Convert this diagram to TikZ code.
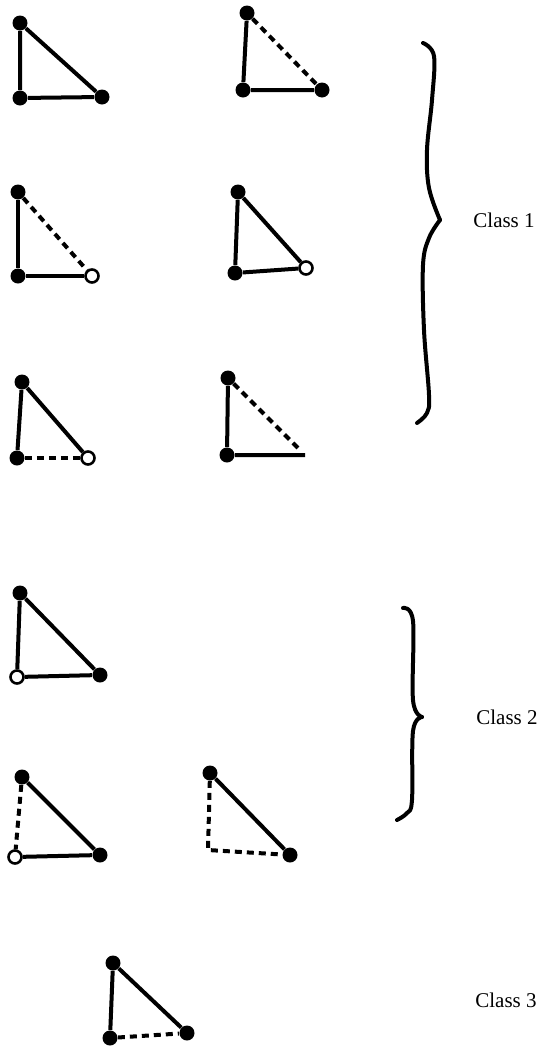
\documentclass[tikz,border=0pt]{standalone}
\usepackage{fontspec}
\setmainfont{Liberation Serif}
\usetikzlibrary{positioning}
\tikzset{
  site/.style={
    circle,
    fill=black,
    minimum size=7.5pt,
    inner sep=0pt
  },
  site open/.style={
    circle,
    draw=black,
    line width=1.3pt,
    fill=white,
    minimum size=6.5pt,
    inner sep=0pt
  },
  link/.style={
    line width=2pt
  },
  link broken/.style={
    line width=2pt,
    dash pattern=on 3.5pt off 2.5pt
  },
  bracepath/.style={
    line width=2pt,
    line cap=round,
    line join=round
  },
  classlabel/.style={
    font=\fontsize{10.5}{12}\selectfont,
    anchor=west,
    inner sep=0pt
  }
}

\begin{document}
\begin{tikzpicture}[x=0.5pt,y=-0.5pt]
  \useasboundingbox (0,0) rectangle (538,1050);

  % Row 1
  \node[site] (a1) at (20,23) {};
  \node[site] (b1) at (20,98) {};
  \node[site] (c1) at (102,97) {};
  \draw[link] (a1) -- (b1) -- (c1) -- (a1);

  \node[site] (a2) at (247,13) {};
  \node[site] (b2) at (243,90) {};
  \node[site] (c2) at (322,90) {};
  \draw[link] (a2) -- (b2) -- (c2);
  \draw[link broken] (a2) -- (c2);

  % Row 2
  \node[site] (a3) at (18,192) {};
  \node[site] (b3) at (18,276) {};
  \node[site open] (c3) at (92,276) {};
  \draw[link] (a3) -- (b3) -- (c3);
  \draw[link broken] (a3) -- (c3);

  \node[site] (a4) at (238,192) {};
  \node[site] (b4) at (235,273) {};
  \node[site open] (c4) at (306,268) {};
  \draw[link] (a4) -- (b4) -- (c4) -- (a4);

  % Row 3
  \node[site] (a5) at (22,382) {};
  \node[site] (b5) at (17,458) {};
  \node[site open] (c5) at (88,458) {};
  \draw[link] (b5) -- (a5) -- (c5);
  \draw[link broken] (b5) -- (c5);

  \node[site] (a6) at (228,378) {};
  \node[site] (b6) at (227,455) {};
  \coordinate (c6) at (305,455);
  \draw[link] (a6) -- (b6) -- (c6);
  \draw[link broken, shorten >=3pt] (a6) -- (c6);

  % Row 4
  \node[site] (a7) at (20,593) {};
  \node[site open] (b7) at (17,677) {};
  \node[site] (c7) at (100,675) {};
  \draw[link] (a7) -- (b7) -- (c7) -- (a7);

  % Row 5
  \node[site] (a8) at (22,777) {};
  \node[site open] (b8) at (15,857) {};
  \node[site] (c8) at (100,855) {};
  \draw[link] (b8) -- (c8) -- (a8);
  \draw[link broken] (a8) -- (b8);

  \node[site] (a9) at (210,773) {};
  \coordinate (b9) at (208,850);
  \node[site] (c9) at (290,855) {};
  \draw[link] (a9) -- (c9);
  \draw[link broken] (a9) -- (b9) -- (c9);

  % Row 6
  \node[site] (a10) at (113,963) {};
  \node[site] (b10) at (110,1038) {};
  \node[site] (c10) at (187,1033) {};
  \draw[link] (b10) -- (a10) -- (c10);
  \draw[link broken] (b10) -- (c10);

  % Braces
  \draw[bracepath] plot[smooth, tension=0.6] coordinates
    {(423,43) (434,56) (432,100) (427,150) (429,188) (440,220)};
  \draw[bracepath] plot[smooth, tension=0.6] coordinates
    {(440,220) (429,238) (423,265) (424,330) (429,395) (427,413) (417,423)};
  \draw[bracepath] plot[smooth, tension=0.6] coordinates
    {(403,608) (413,621) (413,700) (422,717)};
  \draw[bracepath] plot[smooth, tension=0.6] coordinates
    {(422,717) (413,731) (412,800) (407,813) (397,820)};

  % Labels
  \node[classlabel] (cls1) at (473,220) {Class 1};
  \node[classlabel] (cls2) at (476,717) {Class 2};
  \node[classlabel] (cls3) at (475,1000) {Class 3};
\end{tikzpicture}
\end{document}
